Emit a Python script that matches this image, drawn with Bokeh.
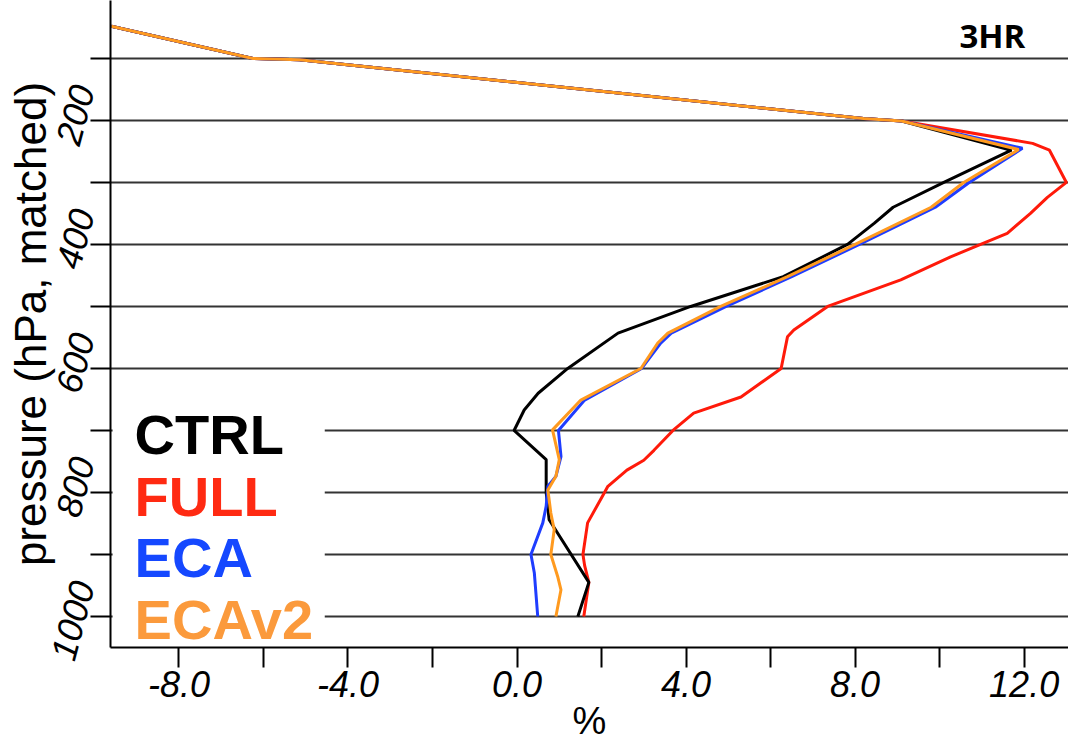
from bokeh.plotting import figure
from bokeh.models import (Range1d, FixedTicker, Label, BoxAnnotation, LinearAxis,
                          PrintfTickFormatter, CustomJSTickFormatter)
from bokeh.embed import file_html
from bokeh.resources import INLINE

# ---- data (percent vs pressure in hPa) ----
# upper segment shared by all four runs
top_x = [-9.6, -6.25, -5.15, 8.2, 9.1]
top_p = [48, 100, 102, 197, 201]

ctrl_x = [11.7, 10.1, 8.9, 8.45, 7.82, 6.3, 4.11, 2.39, 1.2, 0.5, 0.17, -0.07,
          0.69, 0.69, 0.76, 1.7, 1.44]
ctrl_p = [248, 300, 340, 366, 400, 452, 500, 543, 600, 640, 667, 700,
          747, 800, 844, 945, 1000]

full_x = [12.2, 12.6, 13.0, 12.55, 12.15, 11.6, 10.97, 10.26, 9.08, 7.35, 6.55,
          6.4, 6.25, 5.3, 4.18, 3.69, 3.24, 3.0, 2.6, 2.15, 2.07, 1.67, 1.56,
          1.6, 1.7, 1.58]
full_p = [237, 248, 300, 324, 350, 382, 400, 420, 457, 500, 538,
          549, 600, 646, 672, 700, 732, 748, 764, 790, 800, 849, 900,
          918, 945, 1000]

eca_x = [11.96, 10.7, 9.9, 8.1, 6.5, 4.95, 3.65, 3.4, 2.95, 1.6, 0.98, 1.04,
         0.92, 0.73, 0.69, 0.61, 0.33, 0.41, 0.49]
eca_p = [245, 300, 340, 400, 452, 500, 543, 559, 600, 651, 700, 742,
         774, 790, 822, 849, 900, 930, 1000]

ecav2_x = [11.87, 10.57, 9.8, 8.0, 6.4, 4.82, 3.57, 3.33, 2.93, 1.51, 0.84, 1.0,
           0.92, 0.73, 0.8, 0.88, 0.8, 0.96, 1.04, 0.92]
ecav2_p = [247, 300, 340, 400, 452, 500, 543, 559, 600, 651, 699, 747,
           774, 796, 833, 860, 900, 935, 957, 1000]

series_names = ["CTRL", "FULL", "ECA", "ECAv2"]
line_colors = {"CTRL": "#000000", "FULL": "#ff1a0a", "ECA": "#1f3dff", "ECAv2": "#ff9a1f"}
text_colors = {"CTRL": "#000000", "FULL": "#ff2a12", "ECA": "#1548ff", "ECAv2": "#fb9a3c"}

x_ticks = [-8, -4, 0, 4, 8, 12]
x_minor = [-6, -2, 2, 6, 10]
y_ticks = [200, 400, 600, 800, 1000]
y_minor = [100, 300, 500, 700, 900]
grid_levels = [100, 200, 300, 400, 500, 600, 700, 800, 900, 1000]

X0, X1 = -9.62, 13.05
P_BOTTOM, P_TOP = 1050, 6.6
p = figure(width=1068, height=744,
           x_range=Range1d(X0, X1), y_range=Range1d(P_BOTTOM, P_TOP),
           output_backend="svg", toolbar_location=None,
           min_border_left=110, min_border_bottom=97,
           min_border_top=0, min_border_right=0)
p.outline_line_color = None
p.background_fill_color = "white"
p.border_fill_color = "white"
p.xgrid.visible = False
p.ygrid.ticker = FixedTicker(ticks=grid_levels)
p.ygrid.grid_line_color = "#333333"
p.ygrid.grid_line_width = 2

FONT = "Liberation Sans"

# rotated tick labels are anchored at their end; a companion range offset by
# about half a label length keeps them centred on the ticks of the main axis
LABEL_SHIFT = 56
p.extra_y_ranges = {"ylab": Range1d(P_BOTTOM + LABEL_SHIFT, P_TOP + LABEL_SHIFT)}

xa = p.xaxis[0]
xa.ticker = FixedTicker(ticks=x_ticks, minor_ticks=x_minor)
xa.formatter = PrintfTickFormatter(format="%.1f")
ya = p.yaxis[0]
ya.ticker = FixedTicker(ticks=y_ticks, minor_ticks=y_minor)
ya.formatter = CustomJSTickFormatter(code="return ''")
for ax in (xa, ya):
    ax.axis_line_color = "black"
    ax.axis_line_width = 2
    ax.major_tick_line_color = "black"
    ax.minor_tick_line_color = "black"
    ax.major_tick_line_width = 2
    ax.minor_tick_line_width = 2
    ax.major_tick_out = 20
    ax.major_tick_in = 0
    ax.minor_tick_out = 20
    ax.minor_tick_in = 0
    ax.major_label_text_font = FONT
    ax.major_label_text_font_style = "italic"
    ax.major_label_text_font_size = "36px"
    ax.major_label_text_color = "black"
    ax.axis_label_text_font = FONT
    ax.axis_label_text_font_style = "normal"
    ax.axis_label_text_color = "black"

xa.major_label_standoff = 3
xa.axis_label_standoff = 0
xa.axis_label = "%"
xa.axis_label_text_font_size = "38px"

ya.major_label_standoff = 0
ya.axis_label_standoff = 0

lab_axis = LinearAxis(y_range_name="ylab", ticker=FixedTicker(ticks=y_ticks),
                      axis_line_color=None, major_tick_line_color=None,
                      minor_tick_line_color=None, major_tick_in=0, major_tick_out=0,
                      minor_tick_in=0, minor_tick_out=0,
                      major_label_orientation=1.31, major_label_standoff=8,
                      major_label_text_font=FONT, major_label_text_font_style="italic",
                      major_label_text_font_size="36px", major_label_text_color="black",
                      axis_label="pressure (hPa, matched)", axis_label_standoff=-21,
                      axis_label_text_font=FONT, axis_label_text_font_style="normal",
                      axis_label_text_font_size="44px", axis_label_text_color="black")
p.add_layout(lab_axis, "left")

# legend background
box = BoxAnnotation(left=X0 + 0.05, right=-4.55, top=615, bottom=P_BOTTOM,
                    fill_color="white", fill_alpha=1.0, line_color=None,
                    level="underlay")
p.add_layout(box)

order = ["FULL", "CTRL", "ECA", "ECAv2"]
data = {"CTRL": (ctrl_x, ctrl_p), "FULL": (full_x, full_p),
        "ECA": (eca_x, eca_p), "ECAv2": (ecav2_x, ecav2_p)}
for name in order:
    xs, ps = data[name]
    p.line(top_x + xs, top_p + ps, line_color=line_colors[name], line_width=3)

legend_y = [707, 807, 905, 1005]
for name, yy in zip(series_names, legend_y):
    p.add_layout(Label(x=-9.05, y=yy, text=name, text_font=FONT,
                       text_font_style="bold", text_font_size="56px",
                       text_color=text_colors[name], text_baseline="alphabetic"))

p.add_layout(Label(x=12.03, y=63, text="3HR", text_font="Open Sans",
                   text_font_style="bold", text_font_size="33px",
                   text_color="black", text_align="right",
                   text_baseline="alphabetic"))

open("out.html", "w").write(file_html(p, INLINE))
